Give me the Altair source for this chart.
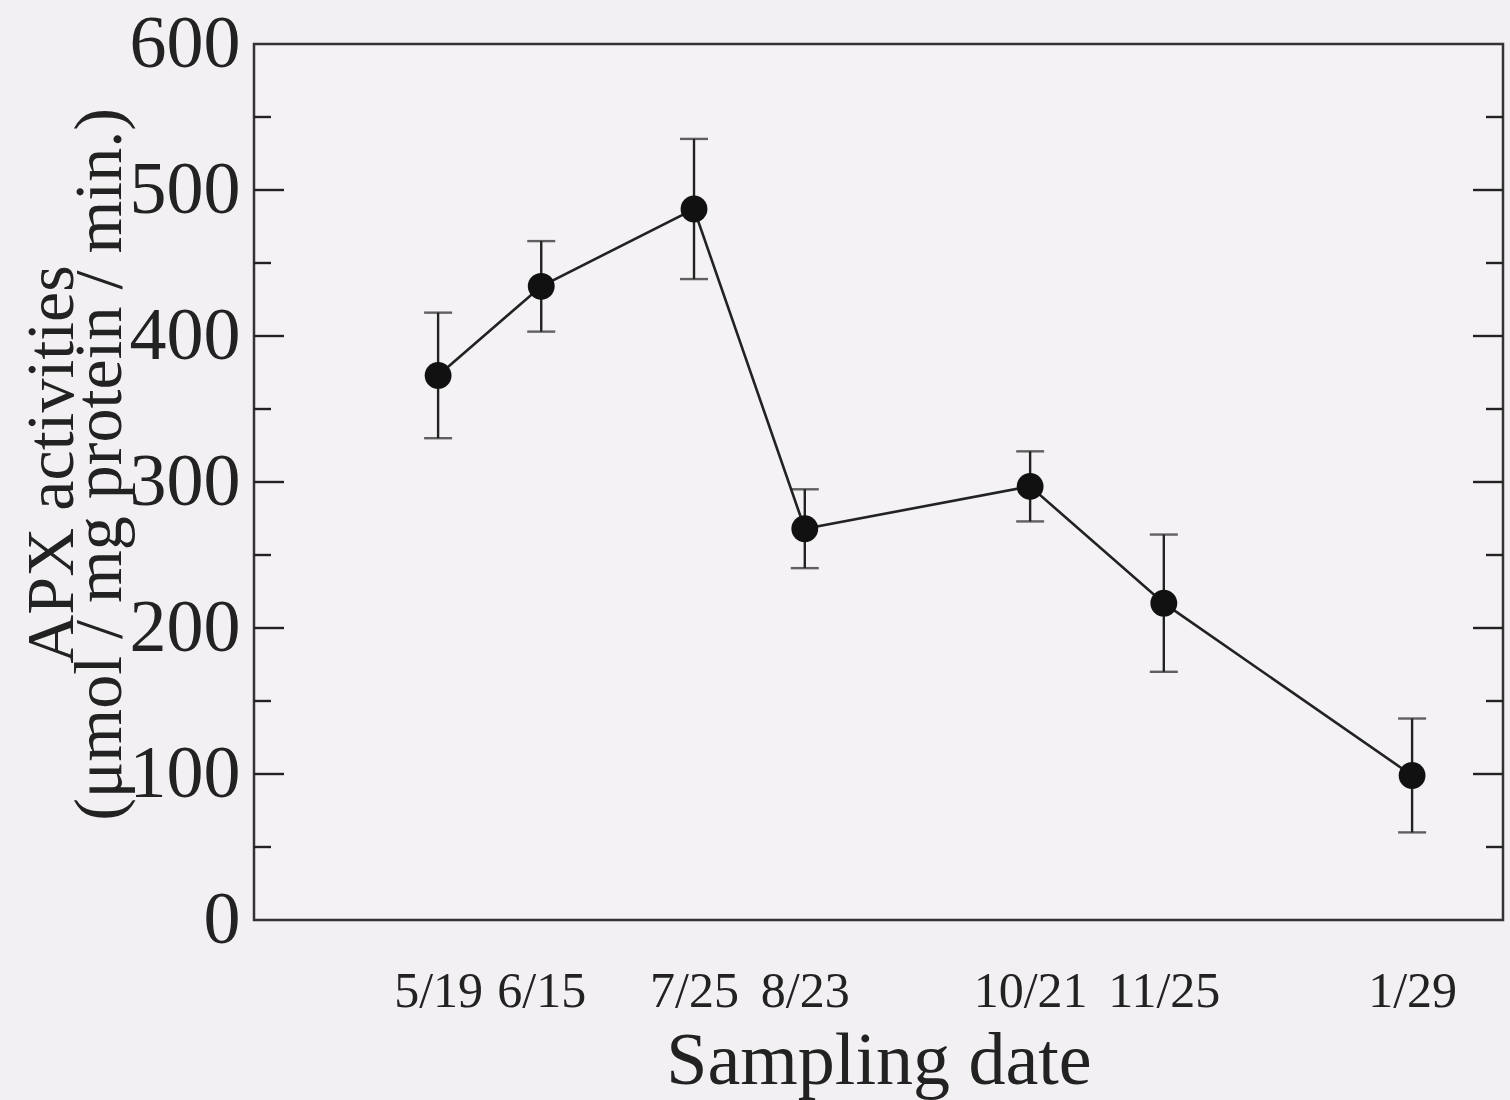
import altair as alt
import pandas as pd

# ---- data ----
date_labels = ["5/19", "6/15", "7/25", "8/23", "10/21", "11/25", "1/29"]
day_index = [139, 166, 206, 235, 294, 329, 394]   # days counted from Jan 1 of the first year
apx_mean = [373, 434, 487, 268, 297, 217, 99]
apx_err = [43, 31, 48, 27, 24, 47, 39]

y_major_ticks = [100, 200, 300, 400, 500]
y_minor_ticks = [50, 150, 250, 350, 450, 550]
y_label_values = [0, 100, 200, 300, 400, 500, 600]

W, H = 1249, 876
FONT = "Liberation Serif"
INK = "#222222"

df = pd.DataFrame({
    "day": day_index,
    "label": date_labels,
    "apx": apx_mean,
    "lo": [m - e for m, e in zip(apx_mean, apx_err)],
    "hi": [m + e for m, e in zip(apx_mean, apx_err)],
})
major = pd.DataFrame({"v": y_major_ticks})
minor = pd.DataFrame({"v": y_minor_ticks})

label_expr = " : ".join(
    f"datum.value == {d} ? '{l}'" for d, l in zip(day_index, date_labels)
) + " : ''"

xscale = alt.Scale(domain=[90.8, 417.8], nice=False, zero=False)
yscale = alt.Scale(domain=[0, 600], nice=False, zero=True)

x_enc = alt.X(
    "day:Q", scale=xscale,
    axis=alt.Axis(
        values=day_index, labelExpr=label_expr, title="Sampling date",
        domain=False, ticks=False, grid=False,
        labelFont=FONT, labelFontSize=50, labelColor=INK, labelPadding=46,
        labelFlush=False, labelOverlap=False,
        titleFont=FONT, titleFontSize=74, titleFontWeight="normal", titleColor=INK,
        titleBaseline="alphabetic", titleY=163,
    ),
)
y_enc = alt.Y(
    "apx:Q", scale=yscale,
    axis=alt.Axis(
        values=y_label_values, title=["APX activities", "(μmol / mg protein / min.)"],
        domain=False, ticks=False, grid=False,
        labelFont=FONT, labelFontSize=74, labelColor=INK, labelPadding=14,
        labelOverlap=False, labelFlush=False,
        titleFont=FONT, titleFontSize=68, titleFontWeight="normal", titleColor=INK,
        titleAngle=-90, titleAlign="center", titleBaseline="alphabetic",
        titleLineHeight=48, titleX=-182, titleY=420,
    ),
)

base = alt.Chart(df)

line = base.mark_line(color=INK, strokeWidth=2.6).encode(x=x_enc, y=y_enc)
pts = base.mark_point(filled=True, color="#111111", size=720, opacity=1).encode(
    x="day:Q", y="apx:Q")
bars = base.mark_rule(color=INK, strokeWidth=2.4).encode(
    x="day:Q", y="lo:Q", y2="hi:Q")
cap_lo = base.mark_tick(color=INK, orient="horizontal", size=28, thickness=2.4).encode(
    x="day:Q", y="lo:Q")
cap_hi = base.mark_tick(color=INK, orient="horizontal", size=28, thickness=2.4).encode(
    x="day:Q", y="hi:Q")

left_major = alt.Chart(major).mark_rule(color=INK, strokeWidth=2.4).encode(
    y="v:Q", x=alt.value(0), x2=alt.value(30))
left_minor = alt.Chart(minor).mark_rule(color=INK, strokeWidth=2.4).encode(
    y="v:Q", x=alt.value(0), x2=alt.value(17))
right_major = alt.Chart(major).mark_rule(color=INK, strokeWidth=2.4).encode(
    y="v:Q", x=alt.value(W - 30), x2=alt.value(W))
right_minor = alt.Chart(minor).mark_rule(color=INK, strokeWidth=2.4).encode(
    y="v:Q", x=alt.value(W - 17), x2=alt.value(W))

chart = alt.layer(
    line, bars, cap_lo, cap_hi, pts,
    left_major, left_minor, right_major, right_minor,
).properties(
    width=W, height=H,
    autosize=alt.AutoSizeParams(type="none"),
    padding={"left": 254, "top": 44, "right": 7, "bottom": 180},
    background="#f3f0f3",
).configure_view(
    stroke="#333333", strokeWidth=2.5, fill="#f4f2f5",
)

chart.save("out.html", embed_options={"renderer": "svg", "actions": False})
